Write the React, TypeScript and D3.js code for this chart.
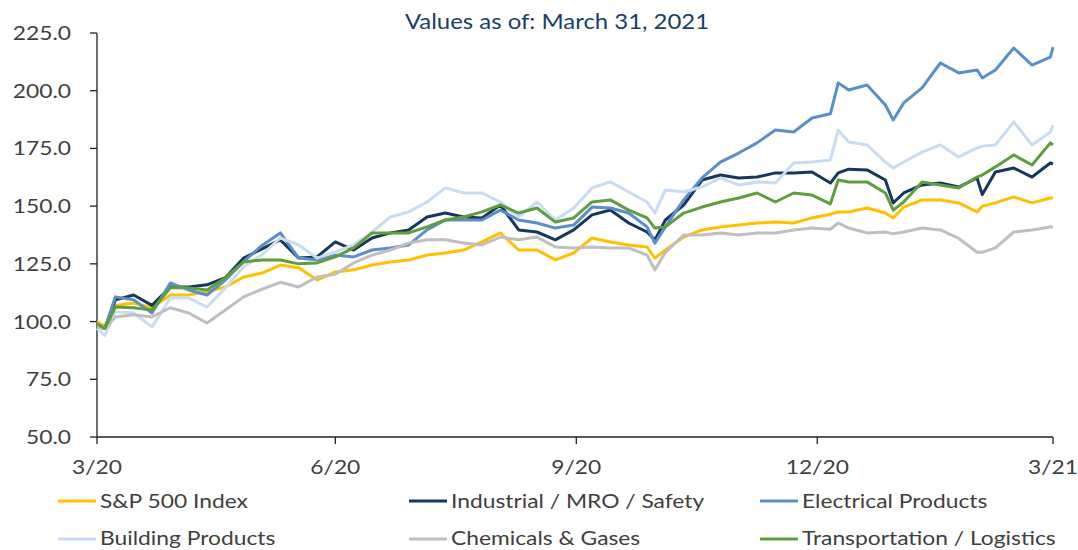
import React from "react";
import * as d3 from "d3";

const dates = [
  "2020-03-31", "2020-04-03", "2020-04-07", "2020-04-14", "2020-04-21", "2020-04-28", "2020-05-05", "2020-05-12",
  "2020-05-19", "2020-05-26", "2020-06-02", "2020-06-09", "2020-06-16", "2020-06-23", "2020-06-30", "2020-07-07",
  "2020-07-14", "2020-07-21", "2020-07-28", "2020-08-04", "2020-08-11", "2020-08-18", "2020-08-25", "2020-09-01",
  "2020-09-08", "2020-09-15", "2020-09-22", "2020-09-29", "2020-10-06", "2020-10-13", "2020-10-20", "2020-10-27",
  "2020-10-30", "2020-11-03", "2020-11-10", "2020-11-17", "2020-11-24", "2020-12-01", "2020-12-08", "2020-12-15",
  "2020-12-22", "2020-12-29", "2021-01-05", "2021-01-08", "2021-01-12", "2021-01-19", "2021-01-26", "2021-01-29",
  "2021-02-02", "2021-02-09", "2021-02-16", "2021-02-23", "2021-03-02", "2021-03-04", "2021-03-09", "2021-03-16",
  "2021-03-23", "2021-03-30", "2021-03-31",
];

const sp500 = [
  100, 98, 107, 108, 106, 111.5, 111.5, 113, 115, 119.3, 121, 124.5, 123.3, 118, 121.5, 122.4,
  124.5, 125.8, 126.7, 128.8, 129.7, 131, 134.5, 138.4, 131, 131, 126.7, 129.7, 136.2, 134.5, 133.2, 132.3,
  127.5, 131, 136.6, 139.7, 141, 141.8, 142.7, 143.1, 142.7, 144.9, 146.5, 147.5, 147.5, 149.2, 147, 144.9,
  149.6, 152.7, 152.7, 151.4, 147.5, 150, 151.4, 154, 151.4, 153.5, 153.5,
];

const industrial = [
  98, 97, 109.4, 111.5, 107, 115, 115, 115.9, 119, 127.5, 131.5, 135.4, 127.5, 128, 134.5, 131,
  136.2, 138.4, 139.7, 145.3, 147, 145.3, 144.9, 150.5, 139.7, 138.8, 135.4, 139.7, 146.2, 148.3, 142.7, 138.8,
  135.4, 144, 150.5, 161.3, 163.5, 162.2, 162.6, 164.4, 164.4, 164.8, 160, 164.4, 166, 165.7, 161.3, 151.4,
  155.7, 159.2, 160, 158.3, 162.2, 155, 164.8, 166.5, 162.6, 168.7, 168.2,
];

const electrical = [
  99, 97, 110.7, 109.4, 103.7, 116.7, 113.7, 111.5, 118, 126, 133, 138.4, 127.5, 126.7, 128.8, 128,
  131, 131.9, 133.2, 139.7, 144, 144, 144, 148.3, 144, 142.7, 140.5, 141.8, 149.6, 149.2, 147, 141,
  134, 141, 152.7, 162.2, 169.1, 173, 177.4, 183, 182.1, 188.2, 190, 203.4, 200.3, 202.5, 193.8, 187.3,
  194.7, 201.2, 212, 207.7, 209, 205.5, 209, 218.5, 211.1, 214.6, 218.9,
];

const building = [
  97, 94, 104.2, 103.7, 97.7, 110.2, 110.2, 106.3, 114.6, 123.7, 129, 136.2, 133.2, 127.5, 130.2, 133.2,
  138.8, 145.3, 147.5, 151.8, 157.9, 155.7, 155.7, 151.8, 145.3, 151.8, 144, 149.2, 157.9, 160.5, 156.1, 151.8,
  147, 157, 156.1, 158.3, 162.2, 159.2, 160.5, 160, 168.7, 169.1, 170, 183, 177.8, 176.5, 169.1, 166.5,
  169.1, 173.4, 176.5, 171.3, 175.2, 176, 176.5, 186.5, 176.5, 182.1, 185,
];

const chemicals = [
  98, 97, 102, 103, 102, 106, 103.7, 99.4, 105, 110.7, 114, 117, 115, 119.3, 120.5, 125.4,
  128.8, 131, 134, 135.4, 135.4, 134, 133.2, 136.6, 135.4, 136.6, 132.3, 131.9, 132.3, 131.9, 131.9, 128.8,
  122.4, 130, 137.5, 137.5, 138.4, 137.5, 138.4, 138.4, 139.7, 140.5, 140, 142.7, 140.5, 138.4, 138.8, 138,
  138.8, 140.5, 139.7, 136, 130, 130, 131.9, 138.8, 139.7, 141, 141,
];

const transportation = [
  99, 97, 106.3, 106, 105, 114.6, 114.6, 113.7, 119, 125.8, 126.7, 126.7, 125, 125.4, 128, 131.9,
  138.4, 138.4, 138.4, 141, 144, 145.3, 147.5, 150.5, 147, 149.2, 143.1, 144.9, 151.8, 152.7, 148.3, 144.9,
  140.5, 141, 147, 149.6, 151.8, 153.5, 155.7, 151.8, 155.7, 154.8, 151, 161.3, 160.5, 160.5, 155.7, 148.3,
  151.8, 160.5, 159.2, 157.9, 162.6, 163.5, 167, 172.2, 167.8, 177.4, 176.5,
];

const seriesNames = [
  "S&P 500 Index",
  "Industrial / MRO / Safety",
  "Electrical Products",
  "Building Products",
  "Chemicals & Gases",
  "Transportation / Logistics",
];
const seriesValues = [sp500, industrial, electrical, building, chemicals, transportation];
const seriesColors = ["#FFC000", "#17375E", "#5A8FCC", "#CADCF2", "#BFBFBF", "#5E9E3B"];

const yTicks = [50, 75, 100, 125, 150, 175, 200, 225];
const xTickDates = ["2020-03-31", "2020-06-30", "2020-09-30", "2020-12-31", "2021-03-31"];
const xTickLabels = ["3/20", "6/20", "9/20", "12/20", "3/21"];

const title = "Values as of: March 31, 2021";

const SX = 1.14;

function SText(props: {
  x: number;
  y: number;
  anchor?: "start" | "middle" | "end";
  size: number;
  fill: string;
  children: React.ReactNode;
}) {
  return (
    <text
      transform={`translate(${props.x},${props.y}) scale(${SX},1)`}
      textAnchor={props.anchor || "start"}
      fontSize={props.size}
      fill={props.fill}
    >
      {props.children}
    </text>
  );
}

export default function App() {
  const W = 1078;
  const H = 550;
  const left = 97;
  const right = 1053;
  const top = 33;
  const bottom = 437;
  const parse = d3.timeParse("%Y-%m-%d");
  const x = d3
    .scaleTime()
    .domain([parse("2020-03-31") as Date, parse("2021-03-31") as Date])
    .range([left, right]);
  const y = d3.scaleLinear().domain([50, 225]).range([bottom, top]);
  const parsedDates = dates.map((d) => parse(d) as Date);
  const line = d3
    .line<number>()
    .x((_, i) => x(parsedDates[i]))
    .y((v) => y(v));
  const fmt = d3.format(".1f");
  const font = "Lato, 'Open Sans', sans-serif";

  const legendCols = [58, 409, 760];
  const legendRows = [501, 539];

  return (
    <svg
      width={W}
      height={H}
      style={{ position: "absolute", left: 0, top: 0, display: "block", background: "#fff" }}
      fontFamily={font}
    >
      <SText x={557} y={29} anchor="middle" size={21} fill="#17406A">
        {title}
      </SText>
      {yTicks.map((t) => (
        <g key={t}>
          <line x1={left - 7} x2={left} y1={y(t)} y2={y(t)} stroke="#222" strokeWidth={1.3} />
          <SText x={71} y={y(t) + 7} anchor="end" size={20} fill="#404040">
            {fmt(t)}
          </SText>
        </g>
      ))}
      {xTickDates.map((d, i) => {
        const px = x(parse(d) as Date);
        return (
          <g key={d}>
            <line x1={px} x2={px} y1={bottom} y2={bottom + 7} stroke="#222" strokeWidth={1.3} />
            <SText x={px} y={474} anchor="middle" size={20} fill="#404040">
              {xTickLabels[i]}
            </SText>
          </g>
        );
      })}
      <line x1={left} x2={left} y1={top} y2={bottom} stroke="#222" strokeWidth={1.3} />
      <line x1={left} x2={right} y1={bottom} y2={bottom} stroke="#222" strokeWidth={1.3} />
      {seriesValues.map((vals, i) => (
        <path
          key={seriesNames[i]}
          d={line(vals) || ""}
          fill="none"
          stroke={seriesColors[i]}
          strokeWidth={3}
          strokeLinejoin="round"
        />
      ))}
      {seriesNames.map((name, i) => {
        const cx = legendCols[i % 3];
        const row = Math.floor(i / 3);
        const cy = legendRows[row];
        return (
          <g key={name}>
            <line x1={cx} x2={cx + 38} y1={cy} y2={cy} stroke={seriesColors[i]} strokeWidth={3} />
            <SText x={cx + 42} y={cy + (row === 0 ? 7 : 6)} size={20} fill="#404040">
              {name}
            </SText>
          </g>
        );
      })}
    </svg>
  );
}
